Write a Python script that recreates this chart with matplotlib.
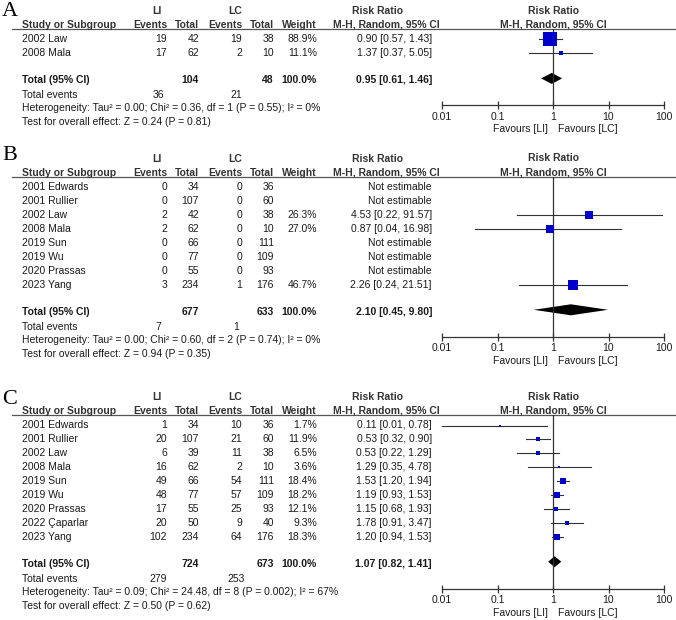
import numpy as np
import matplotlib.pyplot as plt

plt.rcParams['font.family'] = ['Liberation Sans', 'DejaVu Sans']

W, H = 676, 620

# ---- panel A ----
a_study = ['2002 Law', '2008 Mala']
a_li_ev = [19, 17]
a_li_tot = [42, 62]
a_lc_ev = [19, 2]
a_lc_tot = [38, 10]
a_weight = [88.9, 11.1]
a_rr = [0.90, 1.37]
a_lo = [0.57, 0.37]
a_hi = [1.43, 5.05]
a_total = [104, 48]
a_events = [36, 21]
a_pooled = [0.95, 0.61, 1.46]
a_het = 'Heterogeneity: Tau² = 0.00; Chi² = 0.36, df = 1 (P = 0.55); I² = 0%'
a_test = 'Test for overall effect: Z = 0.24 (P = 0.81)'

# ---- panel B ----
b_study = ['2001 Edwards', '2001 Rullier', '2002 Law', '2008 Mala',
           '2019 Sun', '2019 Wu', '2020 Prassas', '2023 Yang']
b_li_ev = [0, 0, 2, 2, 0, 0, 0, 3]
b_li_tot = [34, 107, 42, 62, 66, 77, 55, 234]
b_lc_ev = [0, 0, 0, 0, 0, 0, 0, 1]
b_lc_tot = [36, 60, 38, 10, 111, 109, 93, 176]
b_weight = [None, None, 26.3, 27.0, None, None, None, 46.7]
b_rr = [None, None, 4.53, 0.87, None, None, None, 2.26]
b_lo = [None, None, 0.22, 0.04, None, None, None, 0.24]
b_hi = [None, None, 91.57, 16.98, None, None, None, 21.51]
b_total = [677, 633]
b_events = [7, 1]
b_pooled = [2.10, 0.45, 9.80]
b_het = 'Heterogeneity: Tau² = 0.00; Chi² = 0.60, df = 2 (P = 0.74); I² = 0%'
b_test = 'Test for overall effect: Z = 0.94 (P = 0.35)'

# ---- panel C ----
c_study = ['2001 Edwards', '2001 Rullier', '2002 Law', '2008 Mala', '2019 Sun',
           '2019 Wu', '2020 Prassas', '2022 Çaparlar', '2023 Yang']
c_li_ev = [1, 20, 6, 16, 49, 48, 17, 20, 102]
c_li_tot = [34, 107, 39, 62, 66, 77, 55, 50, 234]
c_lc_ev = [10, 21, 11, 2, 54, 57, 25, 9, 64]
c_lc_tot = [36, 60, 38, 10, 111, 109, 93, 40, 176]
c_weight = [1.7, 11.9, 6.5, 3.6, 18.4, 18.2, 12.1, 9.3, 18.3]
c_rr = [0.11, 0.53, 0.53, 1.29, 1.53, 1.19, 1.15, 1.78, 1.20]
c_lo = [0.01, 0.32, 0.22, 0.35, 1.20, 0.93, 0.68, 0.91, 0.94]
c_hi = [0.78, 0.90, 1.29, 4.78, 1.94, 1.53, 1.93, 3.47, 1.53]
c_total = [724, 673]
c_events = [279, 253]
c_pooled = [1.07, 0.82, 1.41]
c_het = 'Heterogeneity: Tau² = 0.09; Chi² = 24.48, df = 8 (P = 0.002); I² = 67%'
c_test = 'Test for overall effect: Z = 0.50 (P = 0.62)'

ticks = [0.01, 0.1, 1, 10, 100]
tick_labels = ['0.01', '0.1', '1', '10', '100']

panels = [
    dict(letter='A', letter_y=12, line=29, study=a_study, li_ev=a_li_ev, li_tot=a_li_tot,
         lc_ev=a_lc_ev, lc_tot=a_lc_tot, weight=a_weight, rr=a_rr, lo=a_lo, hi=a_hi,
         total=a_total, events=a_events, pooled=a_pooled, het=a_het, test=a_test),
    dict(letter='B', letter_y=156, line=177, study=b_study, li_ev=b_li_ev, li_tot=b_li_tot,
         lc_ev=b_lc_ev, lc_tot=b_lc_tot, weight=b_weight, rr=b_rr, lo=b_lo, hi=b_hi,
         total=b_total, events=b_events, pooled=b_pooled, het=b_het, test=b_test),
    dict(letter='C', letter_y=400, line=415, study=c_study, li_ev=c_li_ev, li_tot=c_li_tot,
         lc_ev=c_lc_ev, lc_tot=c_lc_tot, weight=c_weight, rr=c_rr, lo=c_lo, hi=c_hi,
         total=c_total, events=c_events, pooled=c_pooled, het=c_het, test=c_test),
]

FS = 7.5
TXT = '#1a1a1a'
HDR = '#333333'
LINE = '#333333'
BLUE = '#0000cc'
SPACING = 13.9
X0, X1 = 442, 664  # forest plot axis extent in pixels

fig = plt.figure(figsize=(W / 100, H / 100), dpi=100)
tax = fig.add_axes([0, 0, 1, 1])
tax.set_xlim(0, W)
tax.set_ylim(H, 0)
tax.axis('off')


def fmt_rr(r, l, h):
    if r is None:
        return 'Not estimable'
    return '%.2f [%.2f, %.2f]' % (r, l, h)


for p in panels:
    line = p['line']
    n = len(p['study'])
    rows = [line + 10.5 + i * SPACING for i in range(n)]
    y_total = rows[-1] + 27
    y_events = y_total + 15
    y_het = y_events + 13
    y_test = y_het + 14
    y_axis = y_test - 17
    y_hdr = line - 4.5
    y_grp = line - 18.5

    # panel letter
    tax.text(2, p['letter_y'], p['letter'], fontsize=16, family='Liberation Serif',
             va='center', ha='left', color='black')

    # headers
    bold = dict(fontsize=FS, fontweight='bold', color=HDR, va='center')
    tax.text(157, y_grp, 'LI', ha='center', **bold)
    tax.text(235, y_grp, 'LC', ha='center', **bold)
    tax.text(377, y_grp, 'Risk Ratio', ha='center', **bold)
    tax.text(22, y_hdr, 'Study or Subgroup', ha='left', **bold)
    tax.text(167, y_hdr, 'Events', ha='right', **bold)
    tax.text(199, y_hdr, 'Total', ha='right', **bold)
    tax.text(242, y_hdr, 'Events', ha='right', **bold)
    tax.text(274, y_hdr, 'Total', ha='right', **bold)
    tax.text(317, y_hdr, 'Weight', ha='right', **bold)
    tax.text(386, y_hdr, 'M-H, Random, 95% CI', ha='center', **bold)
    tax.plot([12, W], [line, line], color='#555555', lw=0.9)

    # study rows
    norm = dict(fontsize=FS, color=TXT, va='center')
    for i, y in enumerate(rows):
        tax.text(22, y, p['study'][i], ha='left', **norm)
        tax.text(167, y, str(p['li_ev'][i]), ha='right', **norm)
        tax.text(199, y, str(p['li_tot'][i]), ha='right', **norm)
        tax.text(242, y, str(p['lc_ev'][i]), ha='right', **norm)
        tax.text(274, y, str(p['lc_tot'][i]), ha='right', **norm)
        w = p['weight'][i]
        if w is not None:
            tax.text(317, y, '%.1f%%' % w, ha='right', **norm)
        tax.text(432, y, fmt_rr(p['rr'][i], p['lo'][i], p['hi'][i]), ha='right', **norm)

    # total rows
    tb = dict(fontsize=FS, fontweight='bold', color=TXT, va='center')
    tax.text(22, y_total, 'Total (95% CI)', ha='left', **tb)
    tax.text(199, y_total, str(p['total'][0]), ha='right', **tb)
    tax.text(274, y_total, str(p['total'][1]), ha='right', **tb)
    tax.text(317, y_total, '100.0%', ha='right', **tb)
    tax.text(432, y_total, fmt_rr(*p['pooled']), ha='right', **tb)
    tax.text(22, y_events, 'Total events', ha='left', **norm)
    tax.text(158, y_events, str(p['events'][0]), ha='center', **norm)
    tax.text(236, y_events, str(p['events'][1]), ha='center', **norm)
    tax.text(22, y_het, p['het'], ha='left', **norm)
    tax.text(22, y_test, p['test'], ha='left', **norm)

    # forest plot
    ax = fig.add_axes([X0 / W, 1 - y_axis / H, (X1 - X0) / W, (y_axis - line) / H])
    ax.set_xscale('log')
    ax.set_xlim(0.01, 100)
    ax.set_ylim(y_axis, line)
    ax.patch.set_visible(False)
    for s in ['top', 'left', 'right']:
        ax.spines[s].set_visible(False)
    ax.spines['bottom'].set_color(LINE)
    ax.spines['bottom'].set_linewidth(0.9)
    ax.set_yticks([])
    ax.set_xticks(ticks)
    ax.set_xticklabels(tick_labels)
    ax.minorticks_off()
    ax.tick_params(axis='x', direction='inout', length=6, width=0.9, color=LINE,
                   labelsize=FS, labelcolor=TXT, pad=1.5)
    ax.axvline(1, color=LINE, lw=0.9)

    for i, y in enumerate(rows):
        r = p['rr'][i]
        if r is None:
            continue
        ax.plot([p['lo'][i], p['hi'][i]], [y, y], color=LINE, lw=0.8, clip_on=False)
        side = max(1.4 * np.sqrt(p['weight'][i]), 2.0)
        ax.plot([r], [y], marker='s', ms=side * 0.72, color=BLUE, mec=BLUE,
                mew=0, ls='none', clip_on=False)

    est, lo, hi = p['pooled']
    yc = y_total - 2
    ax.fill([lo, est, hi, est], [yc, yc - 5.5, yc, yc + 5.5], color='black', lw=0,
            clip_on=False)

    ax.annotate('Risk Ratio', xy=(1, y_grp), xycoords='data', ha='center',
                annotation_clip=False, **bold)
    ax.annotate('M-H, Random, 95% CI', xy=(1, y_hdr), xycoords='data', ha='center',
                annotation_clip=False, **bold)
    ax.annotate('Favours [LI]', xy=(1, 0), xycoords=('data', 'axes fraction'),
                xytext=(-5, -24), textcoords='offset pixels', ha='right',
                fontsize=FS, color=TXT, va='center')
    ax.annotate('Favours [LC]', xy=(1, 0), xycoords=('data', 'axes fraction'),
                xytext=(5, -24), textcoords='offset pixels', ha='left',
                fontsize=FS, color=TXT, va='center')

fig.savefig('out.png', dpi=100)
